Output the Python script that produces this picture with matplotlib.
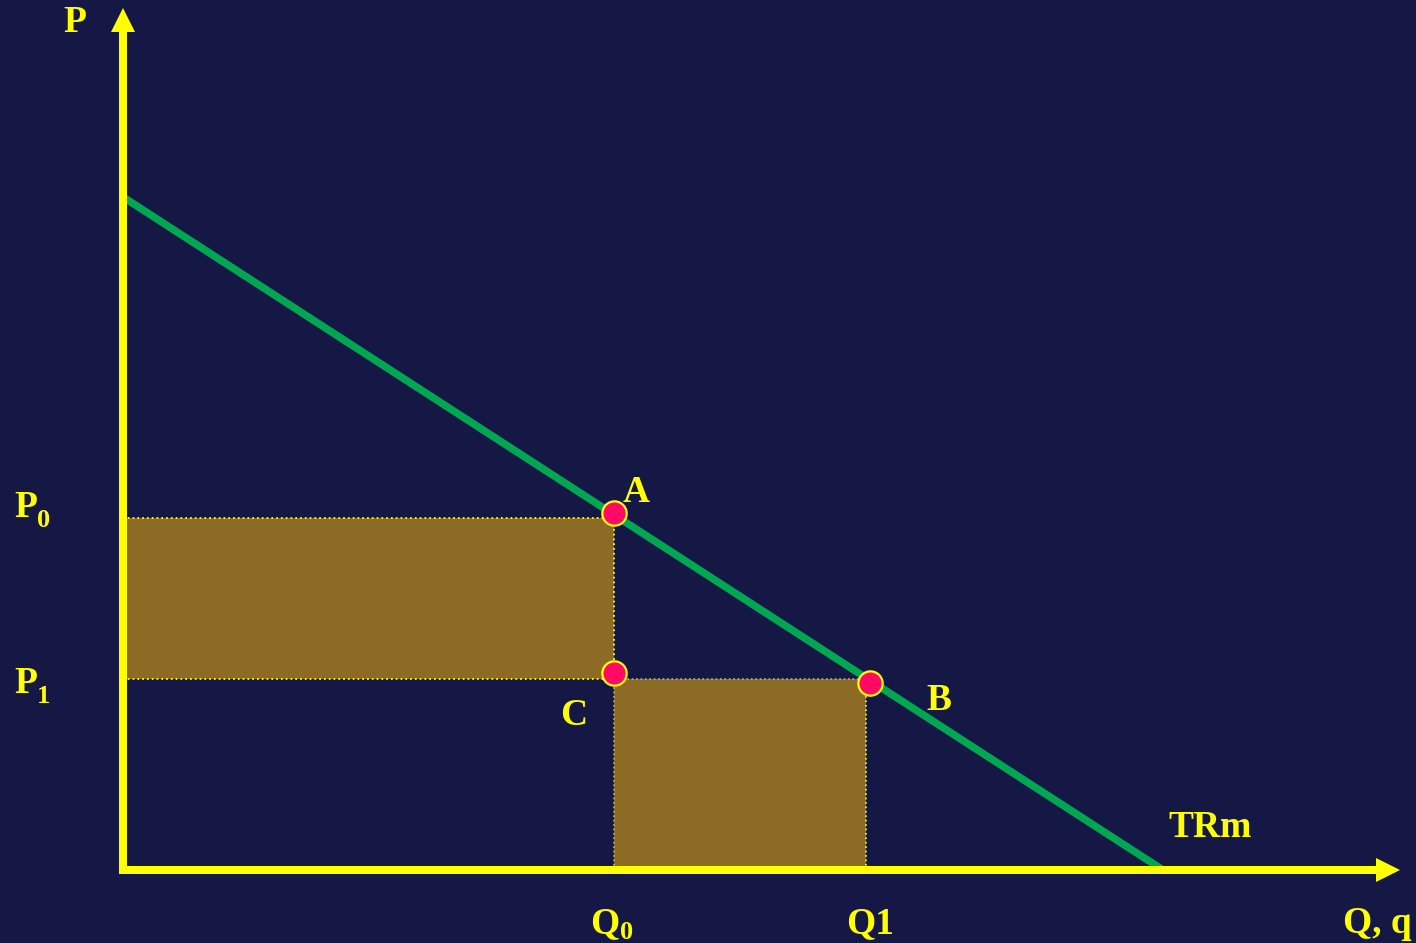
import matplotlib
matplotlib.use("Agg")
import matplotlib.pyplot as plt
from matplotlib.patches import Rectangle

# ---- data (arbitrary units; origin at the axis corner) ----
demand_q = [0, 1040]          # demand / TRm line endpoints (Q)
demand_p = [673, 0]           # demand / TRm line endpoints (P)
Q0, Q1 = 491, 743             # quantities
P0, P1 = 352, 191             # prices
point_names = ["A", "C", "B"]
point_q = [491, 491, 747]
point_p = [357, 197, 187]

BG = "#151745"
YELLOW = "#FFFF00"
GREEN = "#00A651"
BROWN = "#8C6B24"
RED = "#FF0A64"
FONT = "Liberation Serif"

fig = plt.figure(figsize=(14.16, 9.43), dpi=100)
fig.patch.set_facecolor(BG)
ax = fig.add_axes([0, 0, 1, 1])
ax.set_facecolor(BG)
ax.set_xlim(-123, 1293)
ax.set_ylim(-73, 870)
ax.axis("off")

# shaded revenue rectangles
ax.add_patch(Rectangle((0, P1), Q0, P0 - P1, facecolor=BROWN, edgecolor="none", zorder=1))
ax.add_patch(Rectangle((Q0, 0), Q1 - Q0, P1, facecolor=BROWN, edgecolor="none", zorder=1))
# dotted guide edges
ax.plot([0, Q0], [P0, P0], ls=":", color=YELLOW, lw=1.3, zorder=2)
ax.plot([0, Q0], [P1, P1], ls=":", color=YELLOW, lw=1.3, zorder=2)
ax.plot([Q0, Q0], [P1, P0], ls=":", color=YELLOW, lw=1.3, zorder=2)
ax.plot([Q0, Q1], [P1, P1], ls=":", color="#B8B090", lw=1.2, zorder=2)
ax.plot([Q0, Q0], [0, P1], ls=":", color="#B8B090", lw=1.2, zorder=2)
ax.plot([Q1, Q1], [0, P1], ls=":", color=YELLOW, lw=1.2, zorder=2)

# demand (TRm) line
ax.plot(demand_q, demand_p, color=GREEN, lw=5.4, solid_capstyle="butt", zorder=3)

# axes arrows
ax.arrow(0, -4, 0, 866, width=8, head_width=24, head_length=24,
         length_includes_head=True, color=YELLOW, zorder=5, lw=0)
ax.arrow(-3, 0, 1280, 0, width=8, head_width=24, head_length=24,
         length_includes_head=True, color=YELLOW, zorder=5, lw=0)

# points
ax.plot(point_q, point_p, "o", ms=17.5, mfc=RED, mec=YELLOW, mew=1.6, ls="none", zorder=6)

tk = dict(color=YELLOW, fontfamily=FONT, fontweight="bold", zorder=7)
big = 27
small = 19

ax.text(-48, 848, "P", ha="center", va="center", fontsize=big, **tk)
# P0, P1
ax.text(-109, 353, "P", ha="left", va="baseline", fontsize=big, **tk)
ax.text(-86, 343, "0", ha="left", va="baseline", fontsize=small, **tk)
ax.text(-109, 177, "P", ha="left", va="baseline", fontsize=big, **tk)
ax.text(-86, 167, "1", ha="left", va="baseline", fontsize=small, **tk)
# Q labels
ax.text(467, -63, "Q", ha="left", va="baseline", fontsize=big, **tk)
ax.text(497, -69, "0", ha="left", va="baseline", fontsize=small, **tk)
ax.text(723, -63, "Q1", ha="left", va="baseline", fontsize=big, **tk)
ax.text(1220, -63, "Q, q", ha="left", va="baseline", fontsize=big, **tk)
ax.text(1045, 33, "TRm", ha="left", va="baseline", fontsize=big, **tk)
# point labels
ax.text(500, 368, "A", ha="left", va="baseline", fontsize=big, **tk)
ax.text(437, 145, "C", ha="left", va="baseline", fontsize=big, **tk)
ax.text(803, 160, "B", ha="left", va="baseline", fontsize=big, **tk)

fig.savefig("out.png", dpi=100, facecolor=BG)
